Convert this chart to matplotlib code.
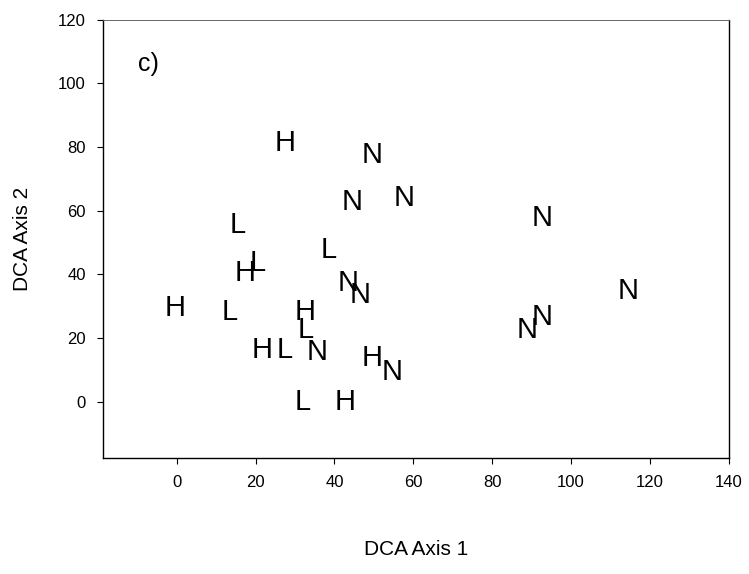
import matplotlib
matplotlib.use("Agg")
import matplotlib.pyplot as plt

plt.rcParams['font.family'] = ['Liberation Sans', 'DejaVu Sans']

# scores on the two DCA axes, grouped by site class
h_x = [27.5, 17.3, -0.4, 32.5, 21.6, 49.5, 42.7]
h_y = [81.2, 40.4, 29.4, 28.1, 16.2, 13.7, -0.1]

l_x = [15.5, 38.6, 20.6, 13.5, 32.8, 27.5, 32.0]
l_y = [55.4, 47.6, 43.5, 28.1, 22.5, 16.2, -0.1]

n_x = [49.5, 44.4, 57.6, 92.6, 43.4, 46.4, 114.5, 92.6, 88.8, 35.5, 54.6]
n_y = [77.4, 62.7, 63.9, 57.6, 37.2, 33.5, 34.8, 26.6, 22.5, 15.6, 9.3]

xticks = [0, 20, 40, 60, 80, 100, 120, 140]
yticks = [0, 20, 40, 60, 80, 100, 120]

fig = plt.figure(figsize=(7.49, 5.74), dpi=100)
ax = fig.add_axes([0.137, 0.202, 0.836, 0.764])

for xs, ys, lab in [(h_x, h_y, 'H'), (l_x, l_y, 'L'), (n_x, n_y, 'N')]:
    for x, y in zip(xs, ys):
        ax.text(x, y, lab, ha='center', va='center', fontsize=21)

ax.set_xlim(-18.8, 140)
ax.set_ylim(-17.7, 120)
ax.set_xticks(xticks)
ax.set_yticks(yticks)
ax.tick_params(direction='out', length=4, width=0.8, labelsize=12, pad=8)

for s in ax.spines.values():
    s.set_linewidth(1.0)
ax.spines['top'].set_color('#666666')
ax.spines['top'].set_linewidth(0.7)

ax.text(-7.3, 106, 'c)', ha='center', va='center', fontsize=18)

ax.set_xlabel('DCA Axis 1', fontsize=15, labelpad=36)
ax.set_ylabel('DCA Axis 2', fontsize=15, labelpad=19)

fig.savefig('out.png', dpi=100)
